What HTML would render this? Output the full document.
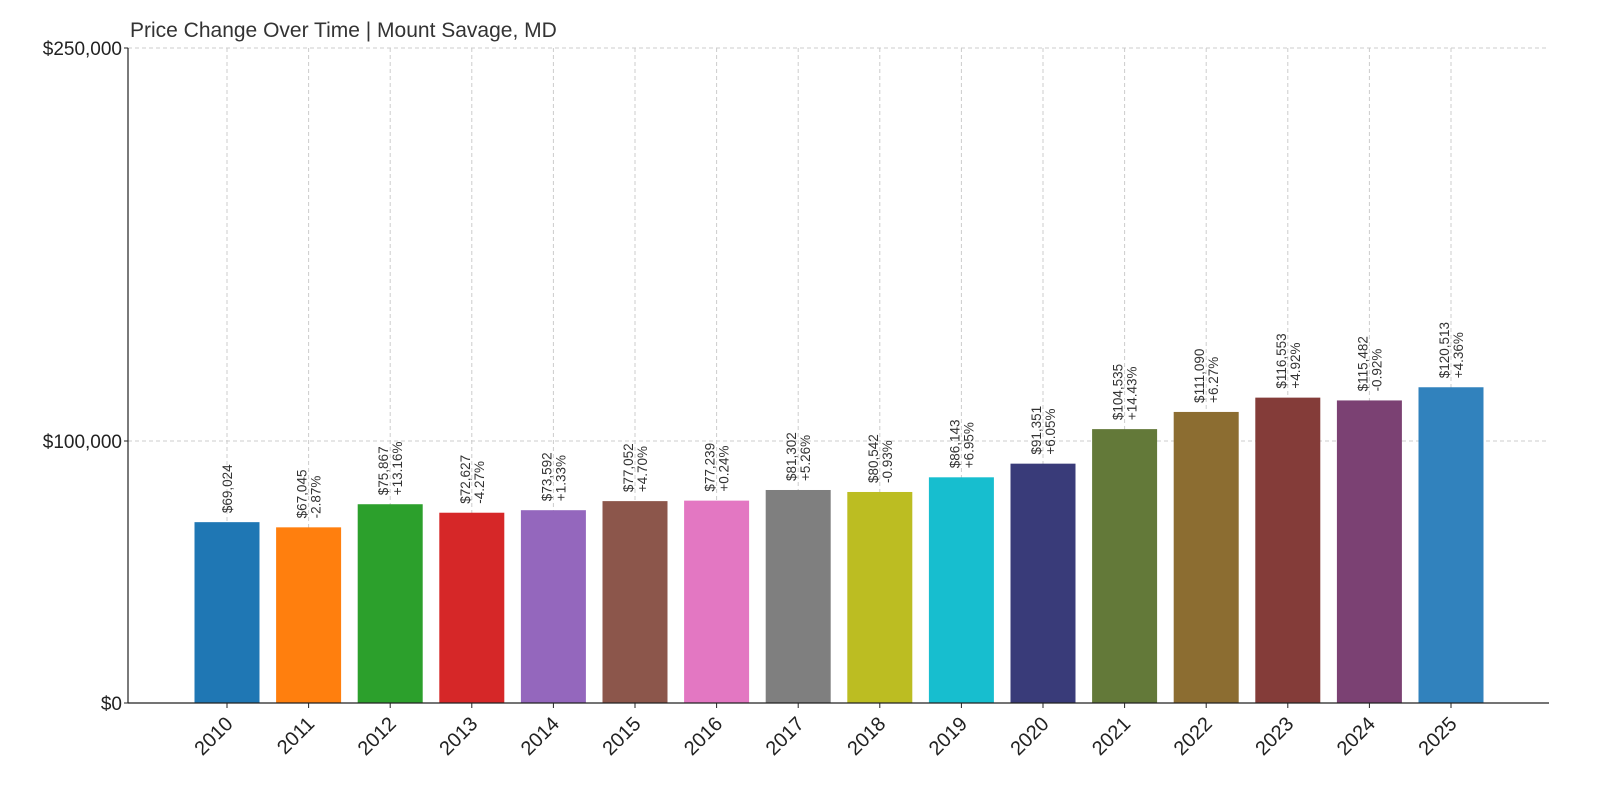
<!DOCTYPE html>
<html><head><meta charset="utf-8"><style>
body{margin:0;background:#fff;}
svg{font-family:"Liberation Sans","DejaVu Sans",sans-serif;}
</style></head><body>
<svg id="chart" width="1600" height="800" viewBox="0 0 1600 800" xmlns="http://www.w3.org/2000/svg">
<text x="130" y="37" font-size="21" fill="#333">Price Change Over Time | Mount Savage, MD</text>
<g id="grid"></g>
<g id="bars"></g>
<g id="labels"></g>
<g id="axes"></g>
</svg>
<script>
const years = ["2010","2011","2012","2013","2014","2015","2016","2017","2018","2019","2020","2021","2022","2023","2024","2025"];
const prices = [69024,67045,75867,72627,73592,77052,77239,81302,80542,86143,91351,104535,111090,116553,115482,120513];
const priceLabels = ["$69,024","$67,045","$75,867","$72,627","$73,592","$77,052","$77,239","$81,302","$80,542","$86,143","$91,351","$104,535","$111,090","$116,553","$115,482","$120,513"];
const pctLabels = ["","-2.87%","+13.16%","-4.27%","+1.33%","+4.70%","+0.24%","+5.26%","-0.93%","+6.95%","+6.05%","+14.43%","+6.27%","+4.92%","-0.92%","+4.36%"];
const colors = ["#1f77b4","#ff7f0e","#2ca02c","#d62728","#9467bd","#8c564b","#e377c2","#7f7f7f","#bcbd22","#17becf","#393b79","#637939","#8c6d31","#843c39","#7b4173","#3182bd"];
const yTicks = [0,100000,250000];
const yTickLabels = ["$0","$100,000","$250,000"];

const NS="http://www.w3.org/2000/svg";
const y0=703, yTop=48, yMax=250000;
const xL=128, xR=1549;
const yScale=v=>y0-(v/yMax)*(y0-yTop);
const step=81.6, x0=227;
const xScale=i=>x0+i*step;
const bw=65;
function mk(tag,attrs,parent,text){const e=document.createElementNS(NS,tag);for(const k in attrs)e.setAttribute(k,attrs[k]);if(text!==undefined)e.textContent=text;parent.appendChild(e);return e;}
const grid=document.getElementById('grid'),bars=document.getElementById('bars'),labels=document.getElementById('labels'),axes=document.getElementById('axes');

yTicks.forEach((t,i)=>{
  const y=yScale(t);
  if(t>0){const l=mk('line',{x1:xL,x2:xR,y1:y,y2:y,stroke:'#ccc','stroke-dasharray':'4,3'},grid);
  
  }
  const tx=mk('text',{x:xL-6,y:y+7,'text-anchor':'end','font-size':19,fill:'#222'},axes,yTickLabels[i]);
  
  
  mk('line',{x1:xL-4,x2:xL,y1:y,y2:y,stroke:'#222'},axes);
});
years.forEach((yr,i)=>{
  const x=xScale(i);
  const g=mk('line',{x1:x,x2:x,y1:yTop,y2:y0,stroke:'#ccc','stroke-dasharray':'4,3'},grid);
  
  
  const top=yScale(prices[i]);
  const r=mk('rect',{x:x-bw/2,y:top,width:bw,height:y0-top,fill:colors[i]},bars);
  
  
  const by=top-9;
  const px = pctLabels[i] ? x-7 : x;
  const t1=mk('text',{x:0,y:0,transform:`translate(${px+5},${by}) rotate(-90)`,'font-size':13.5,fill:'#333'},labels,priceLabels[i]);
  
  
  if(pctLabels[i]){
    const t2=mk('text',{x:0,y:0,transform:`translate(${x+12},${by}) rotate(-90)`,'font-size':13.5,fill:'#333'},labels,pctLabels[i]);
    
    
  }
  mk('line',{x1:x,x2:x,y1:y0,y2:y0+5,stroke:'#222'},axes);
  const xt=mk('text',{x:0,y:0,transform:`translate(${x+7},${y0+22}) rotate(-45)`,'text-anchor':'end','font-size':20,fill:'#222'},axes,yr);
  
  
});
const ax=mk('line',{x1:xL,x2:xL,y1:yTop,y2:y0,stroke:'#222','stroke-width':1.2},axes);


const bx=mk('line',{x1:xL,x2:xR,y1:y0,y2:y0,stroke:'#222','stroke-width':1.2},axes);


</script>
</body></html>
